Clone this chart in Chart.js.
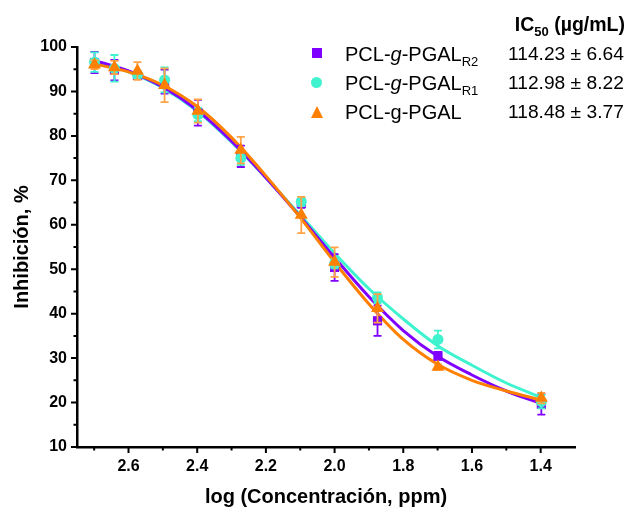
<!DOCTYPE html>
<html>
<head>
<meta charset="utf-8">
<script src="https://cdn.jsdelivr.net/npm/chart.js@4.4.1/dist/chart.umd.min.js"></script>
<style>
  html, body { margin: 0; padding: 0; background: #fff; }
  #wrap { position: relative; width: 634px; height: 512px; font-family: "Liberation Sans", Arial, sans-serif; color: #000; }
  #c { position: absolute; left: 0; top: 0; }
  .t { position: absolute; white-space: nowrap; line-height: 1; font-size: 20px; }
  .v { font-size: 19.2px; }
  .t sub { font-size: 13px; vertical-align: -5px; line-height: 0; }
  .hdr { font-weight: bold; font-size: 19.5px; }
  .mk { position: absolute; }
</style>
</head>
<body>
<div id="wrap">
  <canvas id="c" width="634" height="512"></canvas>
  <div class="t hdr" style="right:9px;top:15px;">IC<sub>50</sub> (µg/mL)</div>

  <div class="mk" style="left:312px;top:48px;width:10px;height:10px;background:#7f00ff;"></div>
  <div class="t" style="left:345px;top:44px;">PCL-<i>g</i>-PGAL<sub>R2</sub></div>
  <div class="t v" style="left:508px;top:44px;">114.23 ± 6.64</div>

  <div class="mk" style="left:311px;top:77px;width:11px;height:11px;border-radius:50%;background:#3ff3cf;"></div>
  <div class="t" style="left:345px;top:73px;">PCL-<i>g</i>-PGAL<sub>R1</sub></div>
  <div class="t v" style="left:508px;top:73px;">112.98 ± 8.22</div>

  <div class="mk" style="left:311px;top:106px;width:0;height:0;border-left:6.5px solid transparent;border-right:6.5px solid transparent;border-bottom:12px solid #ff7f00;"></div>
  <div class="t" style="left:345px;top:102px;">PCL-g-PGAL</div>
  <div class="t v" style="left:508px;top:102px;">118.48 ± 3.77</div>
</div>
<script>
const Chart = window.Chart;

// measured points (log concentration vs % inhibition)
const logConc = [2.699, 2.641, 2.574, 2.495, 2.398, 2.273, 2.097, 2.000, 1.875, 1.699, 1.398];
const r2Mean = [96.5, 94.8, 93.6, 92.2, 85.2, 75.4, 64.8, 50.4, 38.4, 30.5, 19.6];
const r2Err  = [2.4, 2.3, 0.8, 2.7, 2.9, 2.4, 1.0, 3.0, 3.4, 0.9, 2.3];
const r1Mean = [96.6, 95.2, 93.8, 92.6, 84.8, 75.0, 65.2, 51.2, 43.6, 34.2, 20.2];
const r1Err  = [2.2, 3.0, 0.8, 2.8, 1.5, 1.5, 1.0, 1.0, 1.2, 2.0, 1.5];
const pgMean = [96.0, 95.4, 94.6, 91.4, 85.6, 76.8, 62.2, 51.6, 41.2, 28.0, 21.0];
const pgErr  = [1.0, 1.5, 2.0, 3.8, 2.6, 3.0, 4.1, 3.3, 3.2, 0.6, 1.2];

// fitted curves
const fitX   = [2.70, 2.60, 2.50, 2.40, 2.30, 2.20, 2.10, 2.00, 1.90, 1.80, 1.70, 1.60, 1.50, 1.40];
const r2Fit  = [97.0, 94.6, 91.0, 85.8, 78.8, 70.6, 61.8, 52.6, 43.8, 36.2, 30.4, 26.2, 22.6, 19.8];
const r1Fit  = [96.8, 94.4, 90.8, 85.6, 78.6, 70.6, 62.2, 53.6, 45.6, 38.8, 32.8, 28.4, 24.4, 21.2];
const pgFit  = [96.2, 94.4, 91.4, 86.6, 79.6, 71.0, 61.6, 51.6, 42.2, 34.2, 28.6, 25.0, 22.6, 20.6];

const xTicks = [2.6, 2.4, 2.2, 2.0, 1.8, 1.6, 1.4];
const xMinor = [2.7, 2.5, 2.3, 2.1, 1.9, 1.7, 1.5];
const yTicks = [10, 20, 30, 40, 50, 60, 70, 80, 90, 100];
const yMinor = [15, 25, 35, 45, 55, 65, 75, 85, 95];

const C = { r2: "#7f00ff", r1: "#3ff3cf", pg: "#ff7f00", pgErr: "#ffa347" };
const FONT = "'Liberation Sans', Arial, sans-serif";

const pts = (xs, ys) => xs.map((x, i) => ({ x, y: ys[i] }));

const errBars = {
  id: "errBars",
  beforeDatasetDraw(chart, args) {
    const ds = chart.data.datasets[args.index];
    if (!ds.err) return;
    const ctx = chart.ctx, ys = chart.scales.y;
    ctx.save();
    ctx.strokeStyle = ds.errColor;
    ctx.lineWidth = 1.8;
    args.meta.data.forEach((p, i) => {
      const v = ds.data[i].y, e = ds.err[i];
      const a = ys.getPixelForValue(v + e), b = ys.getPixelForValue(v - e);
      ctx.beginPath();
      ctx.moveTo(p.x, a); ctx.lineTo(p.x, b);
      ctx.moveTo(p.x - 4, a); ctx.lineTo(p.x + 4, a);
      ctx.moveTo(p.x - 4, b); ctx.lineTo(p.x + 4, b);
      ctx.stroke();
    });
    ctx.restore();
  },
};

const axisTicks = {
  id: "axisTicks",
  afterDraw(chart) {
    const { ctx, chartArea: a, scales: { x, y } } = chart;
    ctx.save();
    ctx.strokeStyle = "#000";
    ctx.lineWidth = 2;
    ctx.beginPath();
    xTicks.forEach((v) => { const px = x.getPixelForValue(v); ctx.moveTo(px, a.bottom); ctx.lineTo(px, a.bottom + 6); });
    xMinor.forEach((v) => { const px = x.getPixelForValue(v); ctx.moveTo(px, a.bottom); ctx.lineTo(px, a.bottom + 3.5); });
    yTicks.forEach((v) => { const py = y.getPixelForValue(v); ctx.moveTo(a.left, py); ctx.lineTo(a.left - 6, py); });
    yMinor.forEach((v) => { const py = y.getPixelForValue(v); ctx.moveTo(a.left, py); ctx.lineTo(a.left - 3.5, py); });
    ctx.stroke();
    ctx.restore();
  },
};

const markers = (label, ys, err, color, errColor, style, r, order) => ({
  type: "scatter", label, data: pts(logConc, ys), err, errColor, order,
  pointStyle: style, pointRadius: r, backgroundColor: color, borderColor: color, borderWidth: 0, clip: false,
});
const fit = (ys, color, order) => ({
  type: "line", data: pts(fitX, ys), order, borderColor: color, borderWidth: 3,
  pointRadius: 0, cubicInterpolationMode: "monotone", fill: false, clip: false,
});

new Chart(document.getElementById("c"), {
  type: "scatter",
  data: {
    datasets: [
      fit(r1Fit, C.r1, 6),
      fit(r2Fit, C.r2, 5),
      fit(pgFit, C.pg, 4),
      markers("PCL-g-PGAL R2", r2Mean, r2Err, C.r2, C.r2, "rect", 6.5, 3),
      markers("PCL-g-PGAL R1", r1Mean, r1Err, C.r1, C.r1, "circle", 5.5, 2),
      markers("PCL-g-PGAL", pgMean, pgErr, C.pg, C.pgErr, "triangle", 7.5, 1),
    ],
  },
  options: {
    responsive: false, animation: false, devicePixelRatio: 1,
    layout: { padding: { top: 47, right: 59, left: 0, bottom: 0 } },
    plugins: { legend: { display: false }, tooltip: { enabled: false } },
    scales: {
      x: {
        type: "linear", min: 1.3, max: 2.75, reverse: true,
        afterBuildTicks: (s) => { s.ticks = xTicks.map((value) => ({ value })); },
        afterFit: (s) => { s.height = 65; },
        grid: { display: false, drawTicks: false },
        border: { color: "#000", width: 2.5 },
        ticks: { color: "#000", padding: 10, font: { family: FONT, size: 16, weight: "bold" }, callback: (v) => v.toFixed(1) },
        title: { display: true, text: "log (Concentración, ppm)", color: "#000", padding: { top: 0, bottom: 3 }, font: { family: FONT, size: 20, weight: "bold" } },
      },
      y: {
        min: 10, max: 100,
        afterBuildTicks: (s) => { s.ticks = yTicks.map((value) => ({ value })); },
        afterFit: (s) => { s.width = 77; },
        grid: { display: false, drawTicks: false },
        border: { color: "#000", width: 2.5 },
        ticks: { color: "#000", padding: 10, font: { family: FONT, size: 16, weight: "bold" } },
        title: { display: true, text: "Inhibición, %", color: "#000", padding: { top: 10, bottom: 0 }, font: { family: FONT, size: 20, weight: "bold" } },
      },
    },
  },
  plugins: [errBars, axisTicks],
});
</script>
</body>
</html>
